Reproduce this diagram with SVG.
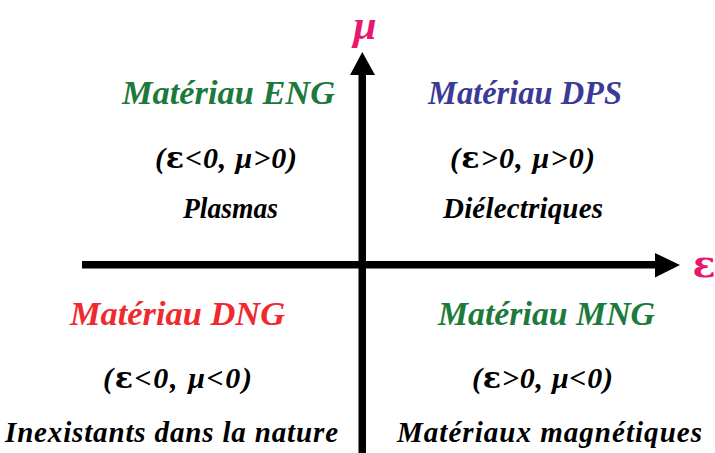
<svg xmlns="http://www.w3.org/2000/svg" width="715" height="453" viewBox="0 0 715 453">
<style>
text{font-family:"Liberation Serif","Times New Roman",serif;font-weight:bold;font-style:italic;text-anchor:middle}
.t{font-size:34px}
.c{font-size:30px;fill:#000}
.d{font-size:29px;fill:#000}
.e{font-family:"DejaVu Serif",serif;font-style:normal}
.g{fill:#1c7a3c}
.b{fill:#3b3a96}
.r{fill:#ee2a2f}
.ax{fill:#e8196c}
</style>
<rect width="715" height="453" fill="#fff"/>
<g id="axes">
<rect x="82" y="261" width="574" height="7.5" fill="#000"/>
<polygon points="655,253 680,265 655,277.5" fill="#000"/>
<rect x="358.5" y="74" width="7.5" height="379" fill="#000"/>
<polygon points="350,75 362.3,52 375,75" fill="#000"/>
<text class="ax" x="365" y="39" style="font-size:42px">μ</text>
<text class="ax e" x="704" y="277" style="font-size:38px">ε</text>
</g>
<g id="eng">
<text class="t g" x="228.5" y="104" textLength="213" lengthAdjust="spacingAndGlyphs">Matériau ENG</text>
<text class="c" x="226" y="168" textLength="142" lengthAdjust="spacing">(<tspan class="e">ε</tspan>&lt;0, μ&gt;0)</text>
<text class="d" x="230.5" y="218" textLength="95" lengthAdjust="spacingAndGlyphs">Plasmas</text>
</g>
<g id="dps">
<text class="t b" x="525" y="104" textLength="194" lengthAdjust="spacingAndGlyphs">Matériau DPS</text>
<text class="c" x="522.5" y="168" textLength="145" lengthAdjust="spacing">(<tspan class="e">ε</tspan>&gt;0, μ&gt;0)</text>
<text class="d" x="523" y="218" textLength="160" lengthAdjust="spacing">Diélectriques</text>
</g>
<g id="dng">
<text class="t r" x="177.5" y="325" textLength="215" lengthAdjust="spacingAndGlyphs">Matériau DNG</text>
<text class="c" x="177.5" y="388" textLength="149" lengthAdjust="spacing">(<tspan class="e">ε</tspan>&lt;0, μ&lt;0)</text>
<text class="d" x="171.5" y="442" textLength="333" lengthAdjust="spacing">Inexistants dans la nature</text>
</g>
<g id="mng">
<text class="t g" x="546.5" y="325" textLength="217" lengthAdjust="spacingAndGlyphs">Matériau MNG</text>
<text class="c" x="542.5" y="388" textLength="141" lengthAdjust="spacing">(<tspan class="e">ε</tspan>&gt;0, μ&lt;0)</text>
<text class="d" x="549.5" y="442" textLength="305" lengthAdjust="spacing">Matériaux magnétiques</text>
</g>
</svg>
